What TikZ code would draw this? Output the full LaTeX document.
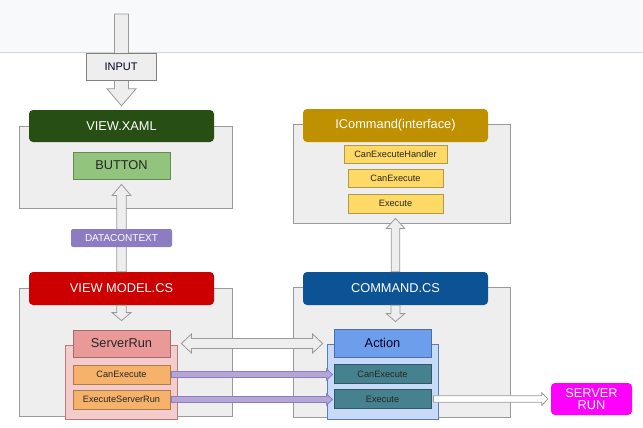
\documentclass[tikz,border=0pt]{standalone}
\usepackage{fontspec}
\setmainfont{Liberation Sans}
\usepackage{xcolor}
\usetikzlibrary{calc}
\definecolor{bandfill}{HTML}{F8F9FA}
\definecolor{bandline}{HTML}{D3D4D6}
\definecolor{panelfill}{HTML}{EEEEEE}
\definecolor{panelline}{HTML}{9A9A9A}
\definecolor{xamlgreen}{HTML}{274E13}
\definecolor{btngreen}{HTML}{93C47D}
\definecolor{vmred}{HTML}{CC0000}
\definecolor{pinkfill}{HTML}{F4CCCC}
\definecolor{runred}{HTML}{EA9999}
\definecolor{orangefill}{HTML}{F6B26B}
\definecolor{icmdgold}{HTML}{BF9000}
\definecolor{yellowfill}{HTML}{FFD966}
\definecolor{cmdblue}{HTML}{0B5394}
\definecolor{bluefill}{HTML}{C9DAF8}
\definecolor{actblue}{HTML}{6D9EEB}
\definecolor{tealfill}{HTML}{45818E}
\definecolor{dctxpurple}{HTML}{8E7CC3}
\definecolor{lilac}{HTML}{B4A7D6}
\definecolor{srvpink}{HTML}{FF00FF}
\newcommand\hdfont{\fontsize{12.8}{14}\selectfont}
\newcommand\smfont{\fontsize{9.2}{11}\selectfont}
\tikzset{
  wh/.style 2 args={minimum width=#1, minimum height=#2},
  panel/.style={draw=panelline, fill=panelfill, line width=0.8pt, inner sep=0pt},
  header/.style={fill=#1, rounded corners=4pt, text=white, font=\hdfont, inner sep=0pt},
  box/.style={draw=#1!70!black, line width=0.8pt, fill=#1, inner sep=0pt, font=\hdfont, text=black!85},
  smallbox/.style={draw=#1!70!black, line width=0.8pt, fill=#1, inner sep=0pt, font=\smfont, text=black!85},
  arr/.style n args={3}{to path={let \p1=(\tikztostart), \p2=(\tikztotarget), \p3=($(\p2)!#3!(\p1)$) in ($(\p1)!#1!90:(\p2)$) -- ($(\p3)!#1!-90:(\p1)$) -- ($(\p3)!#2!-90:(\p1)$) -- (\p2) -- ($(\p3)!#2!90:(\p1)$) -- ($(\p3)!#1!90:(\p1)$) -- ($(\p1)!#1!-90:(\p2)$) -- cycle}},
  dblarr/.style n args={3}{to path={let \p1=(\tikztostart), \p2=(\tikztotarget), \p3=($(\p2)!#3!(\p1)$), \p4=($(\p1)!#3!(\p2)$) in (\p1) -- ($(\p4)!#2!90:(\p2)$) -- ($(\p4)!#1!90:(\p2)$) -- ($(\p3)!#1!-90:(\p1)$) -- ($(\p3)!#2!-90:(\p1)$) -- (\p2) -- ($(\p3)!#2!90:(\p1)$) -- ($(\p3)!#1!90:(\p1)$) -- ($(\p4)!#1!-90:(\p2)$) -- ($(\p4)!#2!-90:(\p2)$) -- cycle}},
  grayarr/.style={fill=panelfill, draw=panelline, line width=0.8pt},
  purplearr/.style={fill=lilac, draw=dctxpurple, line width=0.8pt}
}
\begin{document}
\begin{tikzpicture}[x=1pt,y=-1pt]
\useasboundingbox (0,0) rectangle (643,428);
\fill[bandfill] (0,0) rectangle (643,52);
\draw[bandline, line width=1.5pt] (0,52.5) -- (643,52.5);
\node[panel, wh={213pt}{82pt}] (xamlpanel) at (125.5,167) {};
\node[panel, wh={213pt}{128pt}] (vmpanel) at (125.5,352) {};
\node[panel, wh={217pt}{99pt}] (icmdpanel) at (401.5,173.5) {};
\node[panel, wh={217pt}{130pt}] (cmdpanel) at (401.5,352) {};
\node[draw=runred!80!black, fill=pinkfill, line width=0.8pt, wh={112pt}{74pt}] (runpanel) at (121,382) {};
\node[draw=actblue!80!black, fill=bluefill, line width=0.8pt, wh={111pt}{75pt}] (actpanel) at (382.5,381.5) {};
\node[header=xamlgreen, wh={185pt}{32pt}] (xaml) at (121.5,126) {VIEW.XAML};
\node[box=btngreen, wh={97pt}{27pt}] (btn) at (121.5,165.5) {BUTTON};
\node[header=vmred, wh={185pt}{33pt}] (vm) at (121.5,288.5) {VIEW MODEL.CS};
\node[box=runred, wh={97pt}{27pt}] (srvrun) at (121.5,343.5) {ServerRun};
\node[smallbox=orangefill, wh={97pt}{19pt}] (vmcanexec) at (121.5,374.5) {CanExecute};
\node[smallbox=orangefill, wh={97pt}{19pt}] (vmexec) at (121.5,399.5) {ExecuteServerRun};
\node[header=icmdgold, wh={185pt}{33pt}] (icmd) at (395.5,125.5) {ICommand(interface)};
\node[smallbox=yellowfill, wh={103pt}{18pt}] (handler) at (395.5,154) {CanExecuteHandler};
\node[smallbox=yellowfill, wh={95pt}{18pt}] (ifcanexec) at (395.5,178) {CanExecute};
\node[smallbox=yellowfill, wh={95pt}{19pt}] (ifexec) at (395.5,203.5) {Execute};
\node[header=cmdblue, wh={185pt}{33pt}] (cmd) at (395.5,288.5) {COMMAND.CS};
\node[box=actblue, wh={97pt}{28pt}, text=black!85!blue] (action) at (382.5,343) {Action};
\node[smallbox=tealfill, wh={97pt}{19pt}] (cmdcanexec) at (382.5,374) {CanExecute};
\node[smallbox=tealfill, wh={97pt}{19pt}] (cmdexec) at (382.5,399) {Execute};
\node[fill=srvpink, rounded corners=4pt, text=white, font=\hdfont, align=center, inner sep=0pt, wh={81pt}{32pt}] (srv) at (591.5,399) {SERVER\\[-2pt]RUN};
\coordinate (inputtop) at (121.5,14);
\draw[grayarr, arr={7pt}{14.5pt}{17pt}] (inputtop) to ([yshift=4pt]xaml.north);
\draw[grayarr, arr={4.7pt}{9.3pt}{11pt}] (vm.north) to ([yshift=-5pt]btn.south);
\draw[grayarr, arr={4.7pt}{9.5pt}{8pt}] (vm.south) to ([yshift=9pt]srvrun.north);
\draw[grayarr, arr={4.3pt}{9.2pt}{10pt}] (cmd.north) to ([yshift=5pt]cmd.north |- icmdpanel.south);
\draw[grayarr, arr={4.5pt}{9.2pt}{8pt}] (cmd.south) to ([yshift=7pt]cmd.south |- action.north);
\draw[grayarr, dblarr={5pt}{9.5pt}{10pt}] ([xshift=11pt]srvrun.east) to ([xshift=-11pt]action.west |- srvrun.east);
\draw[purplearr, arr={3pt}{5.5pt}{6pt}] ([xshift=1pt]vmcanexec.east) to ([xshift=-1pt]cmdcanexec.west |- vmcanexec.east);
\draw[purplearr, arr={3pt}{5.5pt}{6pt}] ([xshift=1pt]vmexec.east) to ([xshift=-1pt]cmdexec.west |- vmexec.east);
\draw[fill=white, draw=panelline, line width=0.8pt, arr={3.3pt}{6.3pt}{6pt}] ([xshift=2pt]cmdexec.east) to ([xshift=-3pt]srv.west |- cmdexec.east);
\node[draw=gray, fill=panelfill, line width=0.8pt, wh={70pt}{27pt}, inner sep=0pt, font=\fontsize{11}{13}\selectfont, text=black!85!blue] (input) at (121,66.5) {INPUT};
\node[fill=dctxpurple, rounded corners=2pt, text=white, font=\fontsize{10}{12}\selectfont, wh={101pt}{18pt}, inner sep=0pt] (dctx) at (121.5,238) {DATACONTEXT};
\end{tikzpicture}
\end{document}
